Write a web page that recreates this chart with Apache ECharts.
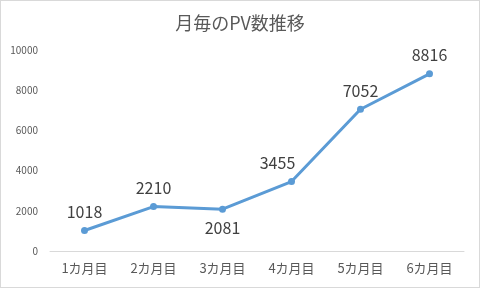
<!DOCTYPE html>
<html><head><meta charset="utf-8">
<script src="https://cdn.jsdelivr.net/npm/echarts@6/dist/echarts.min.js"></script>
<style>html,body{margin:0;padding:0;background:#fff}#c{width:478px;height:286px;border:1px solid #d9d9d9}</style>
</head><body><div id="c"></div>
<script>
var categories = ['1カ月目','2カ月目','3カ月目','4カ月目','5カ月目','6カ月目'];
var pvValues = [1018, 2210, 2081, 3455, 7052, 8816];
var labelPositions = ['top','top','bottom','top','top','top'];
var labelOffsets = [[0,-2],[0,-2],[0,2],[-14,-2],[0,-2],[0,-2]];
var yMin = 0, yMax = 10000, yInterval = 2000;

var font = '"Noto Sans CJK JP", "Noto Sans", sans-serif';
var chart = echarts.init(document.getElementById('c'));
chart.setOption({
  animation: false,
  title: {
    text: '月毎のPV数推移', left: 'center', top: 8,
    textStyle: {fontFamily: font, fontSize: 18, fontWeight: 'normal', color: '#595959'}
  },
  grid: {left: 49, right: 15, top: 49, bottom: 36},
  xAxis: {
    type: 'category', data: categories, boundaryGap: true,
    axisLine: {lineStyle: {color: '#d9d9d9'}},
    axisTick: {show: false},
    axisLabel: {fontFamily: font, fontSize: 13, color: '#595959', margin: 11}
  },
  yAxis: {
    type: 'value', min: yMin, max: yMax, interval: yInterval,
    splitLine: {show: false},
    axisLine: {show: false}, axisTick: {show: false},
    axisLabel: {fontFamily: font, fontSize: 10, color: '#595959', margin: 12,
      formatter: function(v){ return String(v); }}
  },
  series: [{
    type: 'line',
    data: pvValues.map(function(v, i){
      return {value: v, label: {position: labelPositions[i], offset: labelOffsets[i]}};
    }),
    symbol: 'circle', symbolSize: 7,
    lineStyle: {color: '#5b9bd5', width: 3},
    itemStyle: {color: '#5b9bd5'},
    label: {show: true, fontFamily: font, fontSize: 16, color: '#404040'}
  }]
});
</script></body></html>
